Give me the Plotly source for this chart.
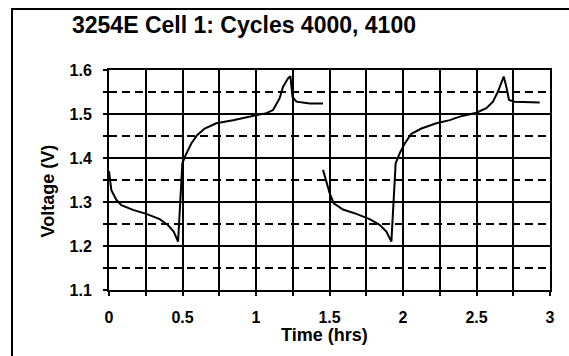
import plotly.graph_objects as go

# Cycle 4000 (first discharge/charge)
t_cycle1 = [0.0, 0.016, 0.05, 0.084, 0.163, 0.254, 0.345, 0.40, 0.44, 0.47,
            0.499, 0.522, 0.56, 0.599, 0.651, 0.73, 0.844, 0.957, 1.071, 1.116,
            1.161, 1.184, 1.218, 1.234, 1.248, 1.275, 1.365, 1.456]
v_cycle1 = [1.37, 1.327, 1.305, 1.293, 1.282, 1.273, 1.261, 1.248, 1.233, 1.210,
            1.388, 1.407, 1.433, 1.452, 1.467, 1.479, 1.486, 1.494, 1.502, 1.509,
            1.536, 1.562, 1.581, 1.586, 1.539, 1.528, 1.524, 1.524]

# Cycle 4100
t_cycle2 = [1.456, 1.501, 1.529, 1.592, 1.683, 1.773, 1.841, 1.887, 1.921,
            1.950, 1.978, 2.012, 2.057, 2.125, 2.227, 2.318, 2.386, 2.499, 2.567,
            2.612, 2.646, 2.669, 2.685, 2.703, 2.721, 2.76, 2.93]
v_cycle2 = [1.373, 1.320, 1.297, 1.283, 1.273, 1.261, 1.248, 1.233, 1.210,
            1.388, 1.411, 1.433, 1.455, 1.467, 1.479, 1.486, 1.494, 1.503, 1.513,
            1.528, 1.551, 1.573, 1.585, 1.562, 1.532, 1.528, 1.526]

x_tick_vals = [0, 0.5, 1, 1.5, 2, 2.5, 3]
x_tick_text = ["<b>0</b>", "<b>0.5</b>", "<b>1</b>", "<b>1.5</b>", "<b>2</b>", "<b>2.5</b>", "<b>3</b>"]
y_tick_vals = [1.1, 1.2, 1.3, 1.4, 1.5, 1.6]
y_tick_text = ["<b>1.1</b>", "<b>1.2</b>", "<b>1.3</b>", "<b>1.4</b>", "<b>1.5</b>", "<b>1.6</b>"]

title_text = "3254E Cell 1: Cycles 4000, 4100"
x_title = "Time (hrs)"
y_title = "Voltage (V)"

FONT = "Liberation Sans, Arial, sans-serif"

fig = go.Figure()
fig.add_trace(go.Scatter(x=t_cycle1, y=v_cycle1, mode="lines",
                         line=dict(color="black", width=2), showlegend=False))
fig.add_trace(go.Scatter(x=t_cycle2, y=v_cycle2, mode="lines",
                         line=dict(color="black", width=2), showlegend=False))
# invisible trace to activate overlay axes (for crossing ticks)
fig.add_trace(go.Scatter(x=[0], y=[1.1], xaxis="x2", yaxis="y2", mode="markers",
                         marker=dict(opacity=0), showlegend=False, hoverinfo="skip"))

fig.update_layout(
    width=569, height=356,
    margin=dict(l=109, r=19, t=70, b=66),
    paper_bgcolor="white", plot_bgcolor="white",
    font=dict(family=FONT, color="black"),
    title=dict(text="<b>" + title_text + "</b>", x=244 / 569, xanchor="center",
               y=1 - 25 / 356, yanchor="middle", yref="container",
               font=dict(size=23, family=FONT, color="black")),
    xaxis=dict(range=[0, 3], tickvals=x_tick_vals, ticktext=x_tick_text,
               showgrid=False, zeroline=False,
               showline=True, linecolor="black", linewidth=2, mirror=True,
               ticks="outside", ticklen=4, tickwidth=1.5, tickcolor="black",
               ticklabelstandoff=8,
               tickfont=dict(size=16, family=FONT, color="black"),
               minor=dict(dtick=0.25, tick0=0, showgrid=True, gridcolor="black",
                          gridwidth=2, ticks="outside", ticklen=4, tickwidth=1.5,
                          tickcolor="black")),
    yaxis=dict(range=[1.1, 1.6], tickvals=y_tick_vals, ticktext=y_tick_text,
               showgrid=True, gridcolor="black", gridwidth=2, zeroline=False,
               showline=True, linecolor="black", linewidth=2, mirror=True,
               ticks="outside", ticklen=4, tickwidth=1.5, tickcolor="black",
               ticklabelstandoff=8,
               tickfont=dict(size=16, family=FONT, color="black"),
               minor=dict(dtick=0.05, tick0=1.1, showgrid=True, gridcolor="black",
                          gridwidth=2, griddash="8px,5px", ticks="outside",
                          ticklen=4, tickwidth=1.5, tickcolor="black")),
    xaxis2=dict(overlaying="x", matches="x", range=[0, 3], showgrid=False,
                zeroline=False, showline=False, showticklabels=False,
                tick0=0, dtick=0.25, ticks="inside", ticklen=3, tickwidth=1.5,
                tickcolor="black", side="bottom"),
    yaxis2=dict(overlaying="y", matches="y", range=[1.1, 1.6], showgrid=False,
                zeroline=False, showline=False, showticklabels=False,
                tick0=1.1, dtick=0.05, ticks="inside", ticklen=3, tickwidth=1.5,
                tickcolor="black", side="left"),
    annotations=[
        dict(text="<b>" + x_title + "</b>", xref="paper", yref="paper",
             x=(324 - 109) / 441, y=-(335 - 290) / 220,
             xanchor="center", yanchor="middle",
             showarrow=False, font=dict(size=18, family=FONT, color="black")),
        dict(text="<b>" + y_title + "</b>", xref="paper", yref="paper",
             x=-(109 - 47) / 441, y=(290 - 191.5) / 220,
             xanchor="center", yanchor="middle",
             textangle=-90, showarrow=False,
             font=dict(size=18, family=FONT, color="black")),
    ],
    shapes=[
        dict(type="line", xref="paper", yref="paper",
             x0=(11 - 109) / 441, x1=(569 - 109) / 441,
             y0=1 + (70 - 9) / 220, y1=1 + (70 - 9) / 220,
             line=dict(color="black", width=2)),
        dict(type="line", xref="paper", yref="paper",
             x0=(12 - 109) / 441, x1=(12 - 109) / 441,
             y0=1 + (70 - 9) / 220, y1=-(356 - 290) / 220,
             line=dict(color="black", width=2)),
    ],
)

fig.write_html("out.html", config={"displayModeBar": False},
               post_script="document.body.style.margin='0px';document.body.style.overflow='hidden';")
